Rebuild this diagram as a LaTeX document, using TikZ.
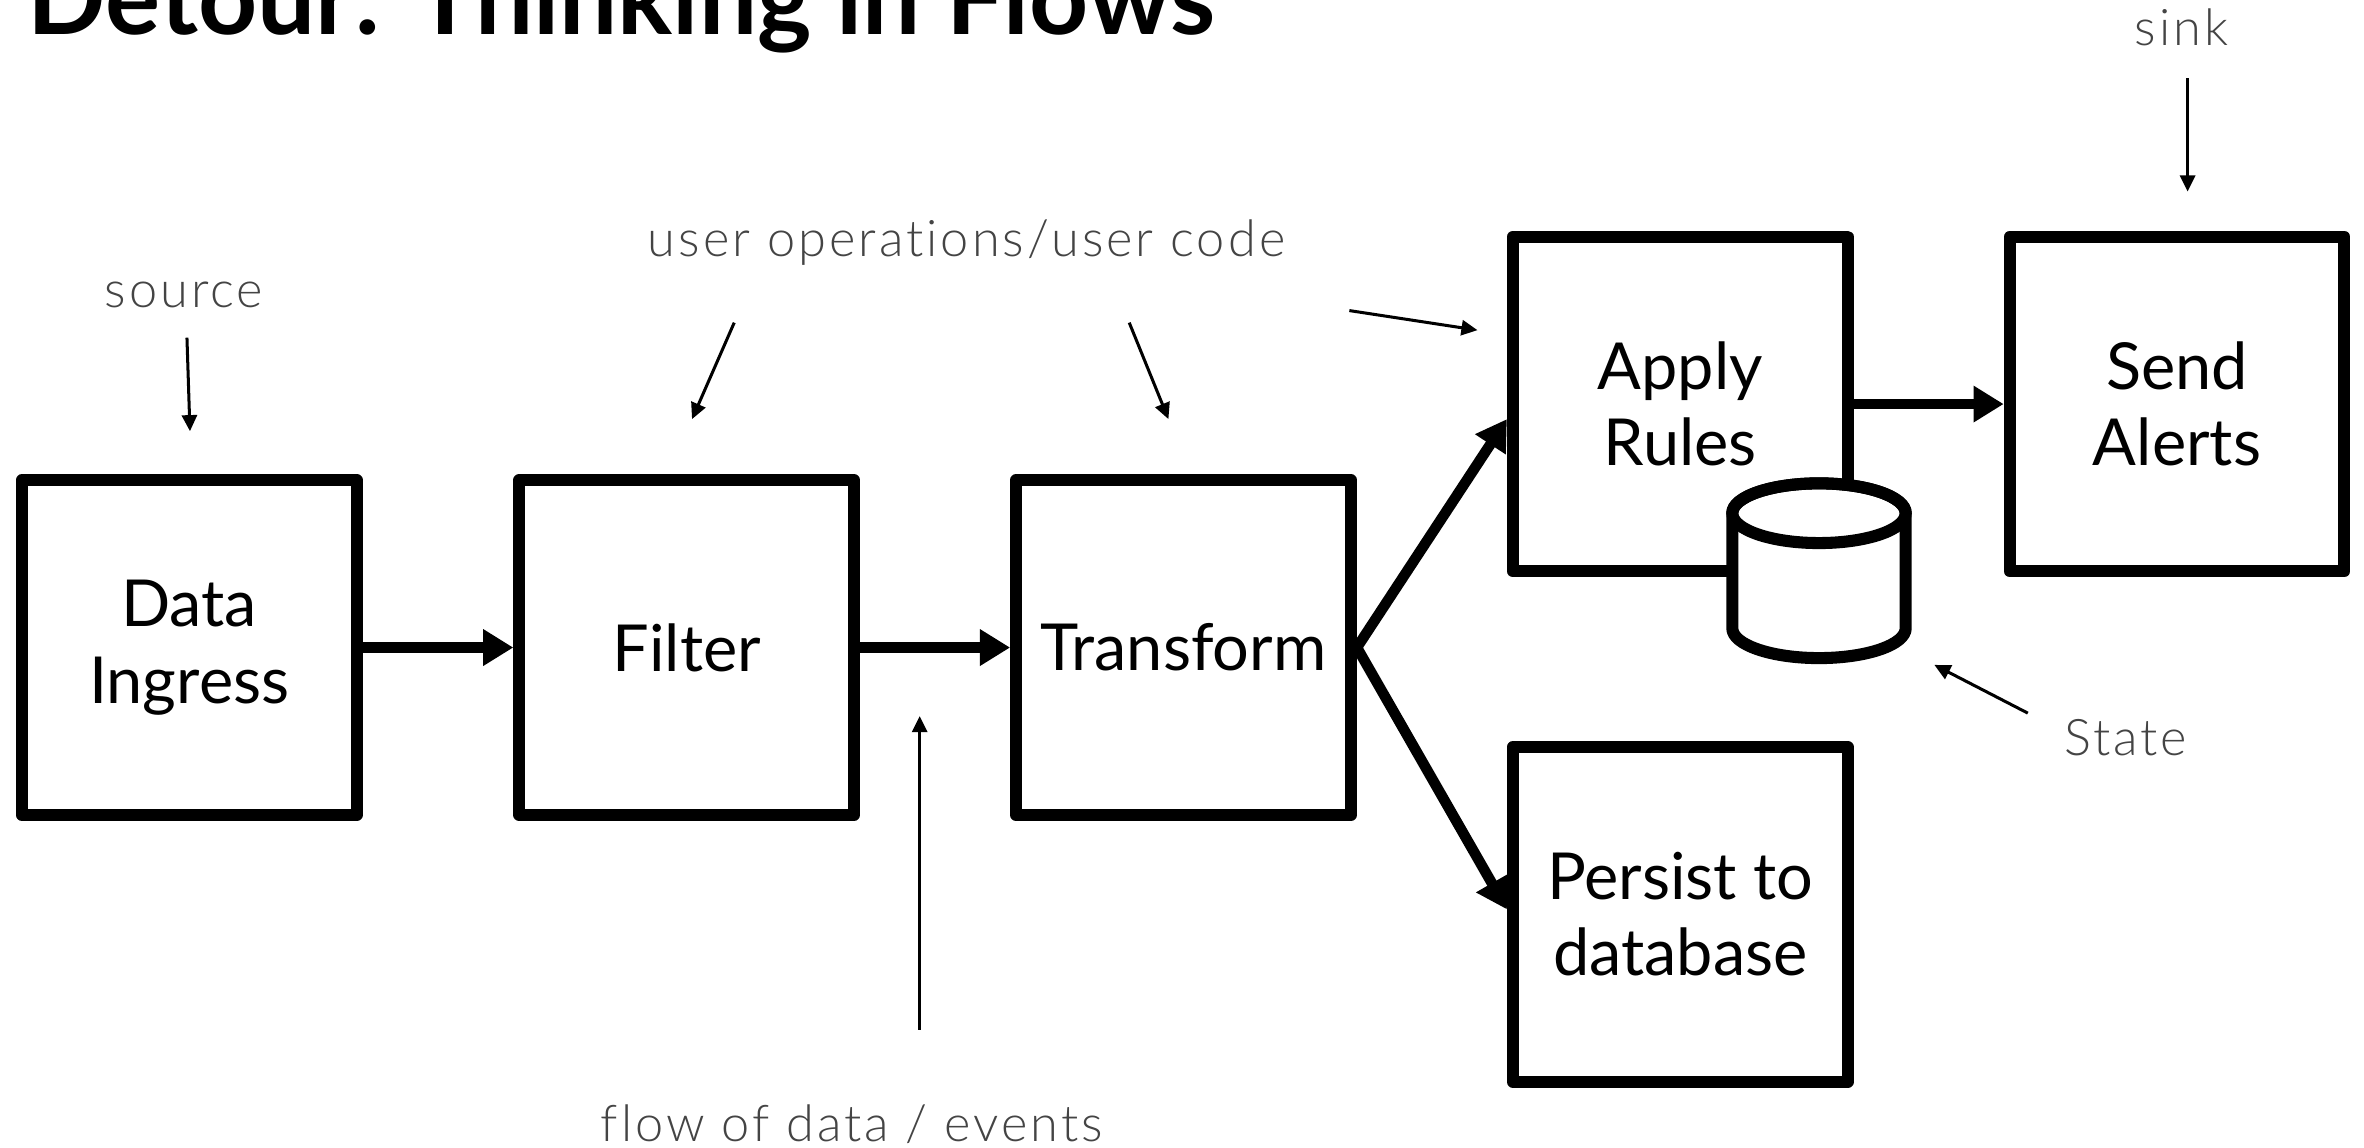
\documentclass[tikz,border=0pt]{standalone}
\usepackage{fontspec}
\setmainfont{Lato}[Ligatures={NoCommon}]
\newfontfamily\notefont{Lato Light}[LetterSpace=6, Ligatures={NoCommon}]
\usetikzlibrary{arrows.meta}
\definecolor{notegray}{RGB}{68,68,68}

% one drawing unit = 0.015cm, y grows downwards
\tikzset{
  x=0.015cm, y=-0.015cm,
  stage/.style={draw, line width=0.12cm, line join=round, fill=white,
    minimum width=3.33cm, minimum height=3.33cm, inner sep=0pt,
    align=center, font=\fontsize{18.35}{21.6}\selectfont},
  flow/.style={line width=0.105cm, -{Triangle[length=0.3cm,width=0.345cm]}},
  hint/.style={line width=0.03cm, -{Triangle[length=0.16cm,width=0.15cm]}},
  note/.style={text=notegray, inner sep=0pt, anchor=base,
    font=\notefont\fontsize{14.3}{17}\selectfont},
}

\begin{document}
\begin{tikzpicture}
\useasboundingbox (0,0) rectangle (1568,761);
\clip (0,0) rectangle (1568,761);

% heading, running off the top edge
\node[anchor=base west, inner sep=0pt, font=\bfseries\fontsize{29.2}{35}\selectfont]
  (heading) at (18,22.8) {Detour: Thinking in Flows};

% pipeline stages
\node[stage] (ingress)   at (125.5,429.5) {Data\\Ingress};
\node[stage] (filter)    at (455.5,429.5) {Filter};
\node[stage] (transform) at (785,429.5)   {Transform};
\node[stage] (rules)     at (1114.5,268)  {Apply\\Rules};
\node[stage] (alerts)    at (1444,268)    {Send\\Alerts};
\node[stage] (persist)   at (1114.5,606.5) {Persist to\\database};

% state store next to the rules stage
\draw[line width=0.12cm, line join=round, fill=white]
  (1149,340.4) -- (1149,416.7)
  arc[start angle=180, end angle=360, x radius=0.8625cm, y radius=0.297cm]
  -- (1264,340.4)
  arc[start angle=0, end angle=180, x radius=0.8625cm, y radius=0.297cm] -- cycle;
\draw[line width=0.12cm] (1206.5,340.4) ellipse[x radius=0.8625cm, y radius=0.297cm];

% data flow
\draw[flow] (ingress.east) -- (filter.west);
\draw[flow] (filter.east) -- (transform.west);
\draw[flow] (transform.east) -- ([yshift=-0.15cm]rules.west);
\draw[flow] (transform.east) -- ([yshift=0.05cm]persist.west);
\draw[flow] (rules.east) -- (alerts.west);

% annotations
\node[note] (source) at (122,204) {source};
\node[note] (usercode) at (641,170) {user operations/user code};
\node[note] (events) at (565,757) {flow of data / events};
\node[note] (sink) at (1447,30) {sink};
\node[note] (state) at (1410,501) {State};

\coordinate (srcA) at (124,224);  \coordinate (srcB) at (126,286);
\coordinate (ucA1) at (487,214);  \coordinate (ucB1) at (459,278);
\coordinate (ucA2) at (749,214);  \coordinate (ucB2) at (775,278);
\coordinate (ucA3) at (895,206);  \coordinate (ucB3) at (980,219);
\coordinate (evA) at (610,683);   \coordinate (evB) at (610,475);
\coordinate (skA) at (1451,52);   \coordinate (skB) at (1451,127);
\coordinate (stA) at (1345,473);  \coordinate (stB) at (1283,441);

\draw[hint] (srcA) -- (srcB);
\draw[hint] (ucA1) -- (ucB1);
\draw[hint] (ucA2) -- (ucB2);
\draw[hint] (ucA3) -- (ucB3);
\draw[hint] (evA) -- (evB);
\draw[hint] (skA) -- (skB);
\draw[hint] (stA) -- (stB);
\end{tikzpicture}
\end{document}
